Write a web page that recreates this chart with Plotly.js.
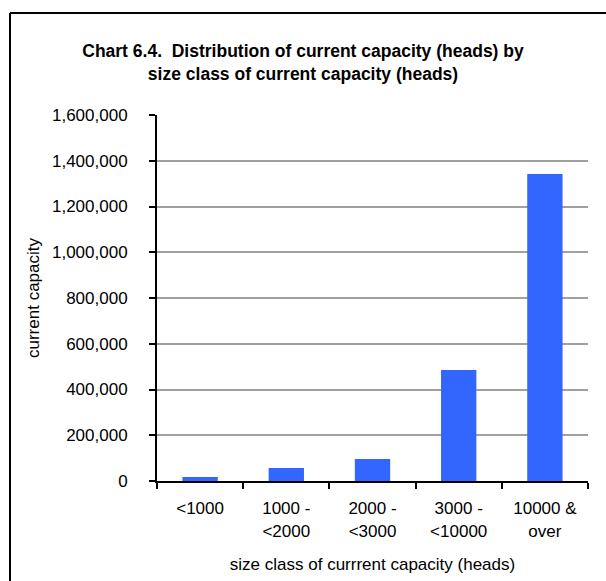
<!DOCTYPE html>
<html>
<head>
<meta charset="utf-8">
<script src="https://cdn.plot.ly/plotly-3.0.1.min.js"></script>
<style>
html,body{margin:0;padding:0;background:#fff;}
#chart{width:606px;height:581px;}
</style>
</head>
<body>
<div id="chart"></div>
<script>
const categories = ["<1000", "1000 -<br><2000", "2000 -<br><3000", "3000 -<br><10000", "10000 &<br>over"];
const capacity = [17000, 57000, 96000, 485000, 1342000];
const yTickVals = [0, 200000, 400000, 600000, 800000, 1000000, 1200000, 1400000, 1600000];
const yTickText = ["0", "200,000", "400,000", "600,000", "800,000", "1,000,000", "1,200,000", "1,400,000", "1,600,000"];

const L = 157, R = 18, T = 115, B = 100, W = 606, H = 581;
const pw = W - L - R, ph = H - T - B;
const px = v => (v - L) / pw;
const py = v => (H - B - v) / ph;

const font = "Liberation Sans, Arial, sans-serif";

Plotly.newPlot('chart', [{
  type: 'bar',
  x: categories,
  y: capacity,
  marker: {color: '#3366FF'},
  hoverinfo: 'none'
}], {
  width: W, height: H,
  margin: {l: L, r: R, t: T, b: B, pad: 0},
  paper_bgcolor: '#ffffff',
  plot_bgcolor: '#ffffff',
  bargap: 0.59,
  showlegend: false,
  font: {family: font, color: '#000', size: 17},
  title: {
    text: '<b>Chart 6.4.  Distribution of current capacity (heads) by<br>size class of current capacity (heads)</b>',
    font: {family: font, size: 17.5, color: '#000'},
    x: 303 / W, xref: 'container', xanchor: 'center',
    y: 1 - 57 / H, yref: 'container', yanchor: 'middle'
  },
  xaxis: {
    type: 'category',
    showline: true, linecolor: '#000', linewidth: 2,
    ticks: 'outside', tickson: 'boundaries', ticklen: 6, tickcolor: '#000', tickwidth: 2,
    showgrid: false, zeroline: false,
    tickfont: {family: font, size: 17},
    ticklabelstandoff: 11,
    title: {text: 'size class of currrent capacity (heads)', font: {family: font, size: 17}, standoff: 19},
    fixedrange: true
  },
  yaxis: {
    range: [0, 1600000],
    tickvals: yTickVals, ticktext: yTickText,
    showline: true, linecolor: '#000', linewidth: 2,
    ticks: 'outside', ticklen: 6, tickcolor: '#000', tickwidth: 2,
    showgrid: true, gridcolor: '#A0A0A0', gridwidth: 2,
    zeroline: false,
    tickfont: {family: font, size: 17},
    ticklabelstandoff: 18,
    title: {text: 'current capacity', font: {family: font, size: 17}, standoff: 8},
    fixedrange: true
  },
  shapes: [
    {type: 'line', xref: 'paper', yref: 'paper', x0: px(10), x1: px(620), y0: py(13), y1: py(13), line: {color: '#000', width: 2}},
    {type: 'line', xref: 'paper', yref: 'paper', x0: px(10), x1: px(10), y0: py(13), y1: py(600), line: {color: '#000', width: 2}}
  ]
}, {displayModeBar: false, staticPlot: true});
</script>
</body>
</html>
